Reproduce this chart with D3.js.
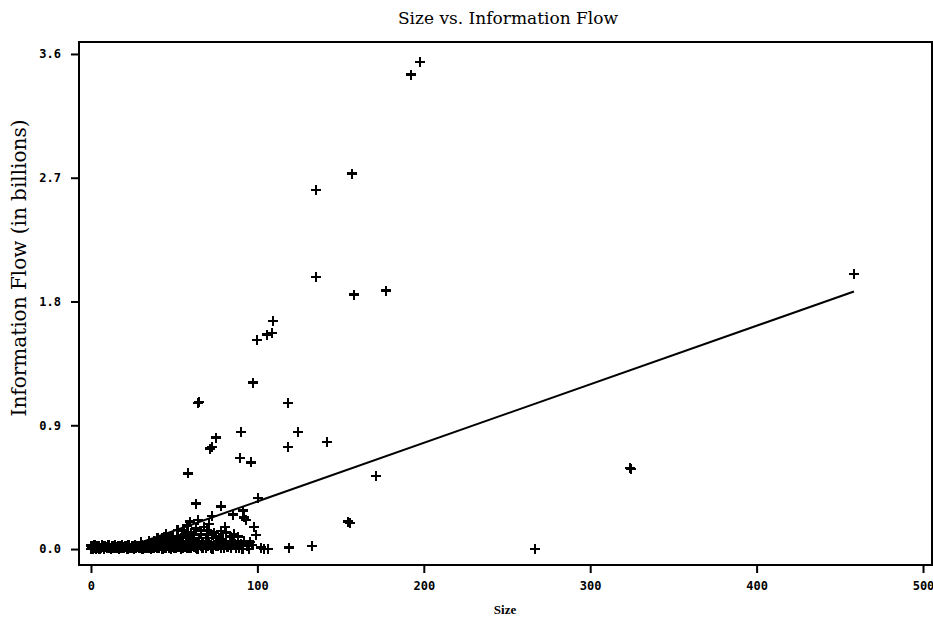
<!DOCTYPE html>
<html><head><meta charset="utf-8">
<script src="https://cdn.jsdelivr.net/npm/d3@7"></script>
<style>body{margin:0;background:#fff}svg{display:block}</style>
</head><body>
<svg id="c" width="933" height="626"></svg>
<script>
const title = "Size vs. Information Flow";
const xLabel = "Size";
const yLabel = "Information Flow (in billions)";
const xTicks = [0, 100, 200, 300, 400, 500];
const yTicks = [0.0, 0.9, 1.8, 2.7, 3.6];

// outlying observations (size, flow in billions)
const outSize = [192.3,197.7,135.2,156.9,135.2,458.5,158.1,177.3,109.4,105.8,108.8,99.8,97.4,64.3,64.9,118.4,124.4,90.1,75.1,71.5,72.7,141.8,89.5,96.2,118.4,58.3,171.3,324.5,323.8,154.4,155.6,132.8,266.8,119.0,106.4,95.0];
const outFlow = [3.45,3.54,2.61,2.73,1.98,2.00,1.85,1.88,1.66,1.56,1.57,1.52,1.21,1.06,1.07,1.06,0.85,0.85,0.81,0.73,0.74,0.78,0.66,0.63,0.74,0.55,0.53,0.58,0.59,0.20,0.19,0.02,0.0,0.01,0.0,0.0];

// mid cluster
const midSize = [63.1,78.1,100.4,59.5,64.3,72.7,67.9,69.7,80.5,81.1,85.3,91.3,91.9,93.1,98.0,99.2,88.3,86.5,83.5,95.6,75,70,65,60,55,52,48,45,42,40,37,35,33,30,28,57,62,67,72,77,82,87,90,50,47,53,44,58,61,66,74,79,84,71,63,56,68,76,89,94,97,102,104,
  38,41,43,46,49,51,54,57,59,62,64,66,69,71,73,76,78,81,83,86,36,39,44,47,52,55,58,61,65,68,70,74,77,80,85,88,92];
const midFlow = [0.33,0.31,0.37,0.20,0.21,0.24,0.16,0.14,0.16,0.12,0.25,0.28,0.23,0.21,0.16,0.10,0.09,0.04,0.045,0.05,0.09,0.06,0.08,0.12,0.10,0.14,0.07,0.11,0.05,0.08,0.04,0.06,0.03,0.05,0.02,0.05,0.03,0.04,0.02,0.05,0.02,0.01,0.04,0.04,0.02,0.06,0.09,0.17,0.07,0.11,0.12,0.07,0.09,0.18,0.15,0.13,0.03,0.02,0.01,0.02,0.03,0.01,0.0,
  0.06,0.03,0.07,0.05,0.09,0.03,0.08,0.11,0.06,0.10,0.04,0.13,0.08,0.05,0.10,0.04,0.13,0.06,0.03,0.11,0.03,0.05,0.04,0.03,0.07,0.04,0.09,0.02,0.06,0.03,0.10,0.03,0.08,0.04,0.06,0.03,0.06];

// dense band of small values near zero
const bandSize = [0,0.5,1,1.5,2,2.5,3,3.5,4,5,6,7,8,9,10,11,12,13,14,15,16,17,18,19,20,21,22,23,24,25,26,27,28,29,30,31,32,33,34,35,36,37,38,39,40,41,42,43,44,45,46,47,48,49,50,52,54,56,58,60,62,64,66,69,73,78,84,91,
  0.2,1.2,2.2,3.2,4.5,5.5,6.5,7.5,8.5,9.5,10.5,11.5,12.5,13.5,14.5,15.5,16.5,17.5,18.5,19.5,20.5,21.5,22.5,23.5,24.5,25.5,26.5,27.5,28.5,29.5,30.5,31.5,32.5,33.5,34.5,35.5,36.5,37.5,38.5,39.5,41.5,43.5,45.5,47.5,49.5,51,53,55,57,59,61,63,65,67,70,72,75,80,82,87,
  0.8,2.8,4.8,6.8,8.8,10.8,12.8,14.8,16.8,18.8,20.8,22.8,24.8,26.8,28.8,30.8,32.8,34.8,36.8,38.8,40.8,42.8,44.8,46.8,48.8,51.5,53.5,55.5,57.5,59.5];
const bandFlow = [0,0.01,0,0.02,0.005,0.01,0,0.015,0.02,0,0.01,0.02,0,0.015,0.005,0.02,0,0.01,0.02,0.005,0.015,0,0.02,0.01,0.005,0.02,0,0.015,0.01,0.02,0,0.01,0.02,0.005,0.015,0,0.02,0.01,0.005,0.02,0,0.015,0.01,0.02,0.005,0.01,0.02,0,0.015,0.01,0.02,0.005,0,0.02,0.01,0.015,0,0.02,0.01,0.005,0.015,0,0.02,0.01,0,0.01,0.005,0,
  0.025,0.005,0.03,0.01,0.025,0.005,0.03,0.015,0.025,0.005,0.03,0.01,0.025,0.005,0.03,0.01,0.025,0.005,0.03,0.015,0.025,0.005,0.03,0.01,0.025,0.005,0.03,0.015,0.025,0.005,0.03,0.01,0.025,0.005,0.035,0.01,0.025,0.005,0.03,0.015,0.025,0.005,0.035,0.01,0.03,0.005,0.025,0.01,0.03,0.005,0.025,0.01,0.03,0.005,0.02,0.01,0.025,0.005,0.015,0.01,
  0.015,0.02,0.012,0.018,0.015,0.02,0.012,0.018,0.015,0.02,0.012,0.018,0.015,0.02,0.012,0.018,0.015,0.02,0.012,0.018,0.015,0.02,0.012,0.018,0.015,0.02,0.012,0.018,0.015,0.02];

// fitted regression line end points
const fitSize = [15, 458.5];
const fitFlow = [-0.016, 1.873];

const svg = d3.select("#c");
const x = d3.scaleLinear().domain([-7.2, 505.4]).range([79, 932]);
const y = d3.scaleLinear().domain([-0.116, 3.687]).range([565, 42]);
const ink = "#000";

// markers
const pts = [];
bandSize.forEach((s,i)=>pts.push([s,bandFlow[i]]));
midSize.forEach((s,i)=>pts.push([s,midFlow[i]]));
outSize.forEach((s,i)=>pts.push([s,outFlow[i]]));
const g = svg.append("g");
const h = 5;
g.selectAll("path.p").data(pts).enter().append("path")
  .attr("d", d => { const px = x(d[0]), py = y(d[1]);
    return `M${px-h},${py}H${px+h}M${px},${py-h}V${py+h}`; })
  .attr("stroke", ink).attr("stroke-width", 2.4).attr("fill","none")
  .attr("shape-rendering","crispEdges");

// fit line
svg.append("path")
  .datum(fitSize.map((s,i)=>[s,fitFlow[i]]))
  .attr("d", d3.line().x(d=>x(d[0])).y(d=>y(d[1])))
  .attr("stroke", ink).attr("stroke-width", 2).attr("fill","none");

// frame
svg.append("rect").attr("x",79).attr("y",42).attr("width",853).attr("height",523)
  .attr("fill","none").attr("stroke",ink).attr("stroke-width",2);

// axes
const xAxis = d3.axisBottom(x).tickValues(xTicks).tickSize(7).tickPadding(8).tickFormat(d3.format("d"));
const yAxis = d3.axisLeft(y).tickValues(yTicks).tickSize(7).tickPadding(10).tickFormat(d3.format(".1f"));
const xa = svg.append("g").attr("transform","translate(0,566)").call(xAxis);
const ya = svg.append("g").attr("transform","translate(78,0)").call(yAxis);
[xa, ya].forEach(a=>{
  a.select(".domain").remove();
  a.selectAll(".tick line").attr("stroke",ink).attr("stroke-width",2);
  a.selectAll(".tick text").attr("fill",ink).attr("font-family","'DejaVu Sans Mono', monospace")
    .attr("font-weight","bold").attr("font-size",12);
});

svg.append("text").attr("x",508).attr("y",24).attr("text-anchor","middle")
  .attr("font-family","'DejaVu Serif', serif").attr("font-size",17).attr("fill",ink).text(title);
svg.append("text").attr("transform","translate(26,268) rotate(-90)").attr("text-anchor","middle")
  .attr("font-family","'DejaVu Serif', serif").attr("font-size",20).attr("fill",ink).text(yLabel);
svg.append("text").attr("x",505).attr("y",614).attr("text-anchor","middle")
  .attr("font-family","'Liberation Serif', serif").attr("font-weight","bold").attr("font-size",13).attr("fill",ink).text(xLabel);
</script>
</body></html>
